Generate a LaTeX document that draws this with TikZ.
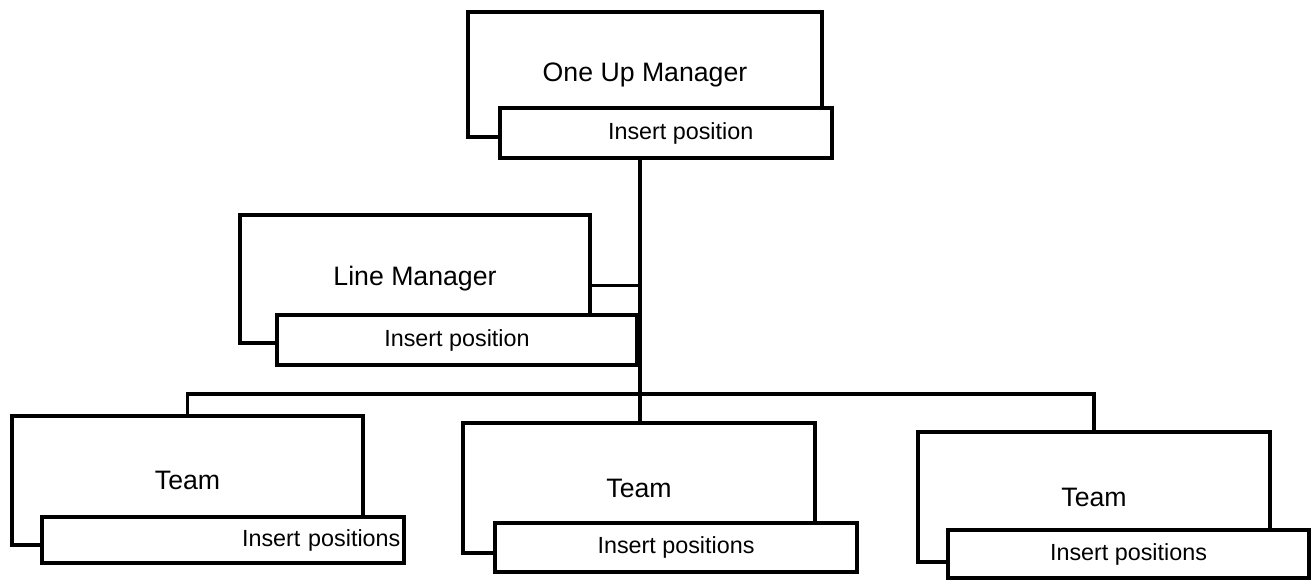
\documentclass[tikz,border=0pt]{standalone}
\usepackage{fontspec}
\setmainfont{Liberation Sans}
\usetikzlibrary{positioning}

\tikzset{
  mgrbox/.style={draw, line width=2.4pt, fill=white, inner sep=0pt, font=\fontsize{20}{22}\selectfont},
  posbox/.style={draw, line width=2.4pt, fill=white, inner sep=0pt, font=\fontsize{17.5}{19}\selectfont},
  link/.style={line width=2.4pt}
}

\begin{document}
\begin{tikzpicture}[x=0.75pt,y=0.75pt,yscale=-1,xscale=1]
\useasboundingbox (0,0) rectangle (1314,581);

%One up manager
\node [mgrbox, minimum width=265.5pt, minimum height=93.75pt] (onemgr) at (645,74.5) {One Up Manager};
\node [posbox, minimum width=249pt, minimum height=37.5pt] (onepos) at (666,133) {\hspace*{22pt}Insert position};

%Line manager
\node [mgrbox, minimum width=262.5pt, minimum height=96pt] (linemgr) at (415,279) {Line Manager};
\node [posbox, minimum width=270pt, minimum height=37.5pt] (linepos) at (457,340) {Insert position};

%Teams
\node [mgrbox, minimum width=263.25pt, minimum height=96.75pt] (teamA) at (187.5,480.5) {Team};
\node [posbox, minimum width=271.5pt, minimum height=34.5pt, text width=266pt, align=right] (teamApos) at (223,540) {Insert positions};
\node [mgrbox, minimum width=264pt, minimum height=97.5pt] (teamB) at (639,488) {Team};
\node [posbox, minimum width=271.5pt, minimum height=36.75pt] (teamBpos) at (676,547.5) {Insert positions};
\node [mgrbox, minimum width=264pt, minimum height=97.5pt] (teamC) at (1094,497) {Team};
\node [posbox, minimum width=270.75pt, minimum height=36pt] (teamCpos) at (1128.5,554) {Insert positions};

%Connectors
\coordinate (hub) at (640,394);
\draw [link] (onepos.south -| hub) -- (hub);
\draw [link] ([yshift=5pt]linemgr.east) -- ([yshift=5pt]linemgr.east -| hub);
\draw [link] (teamA.north) |- (hub) -| (teamC.north);
\draw [link] (hub) -- (teamB.north -| hub);

\end{tikzpicture}
\end{document}
